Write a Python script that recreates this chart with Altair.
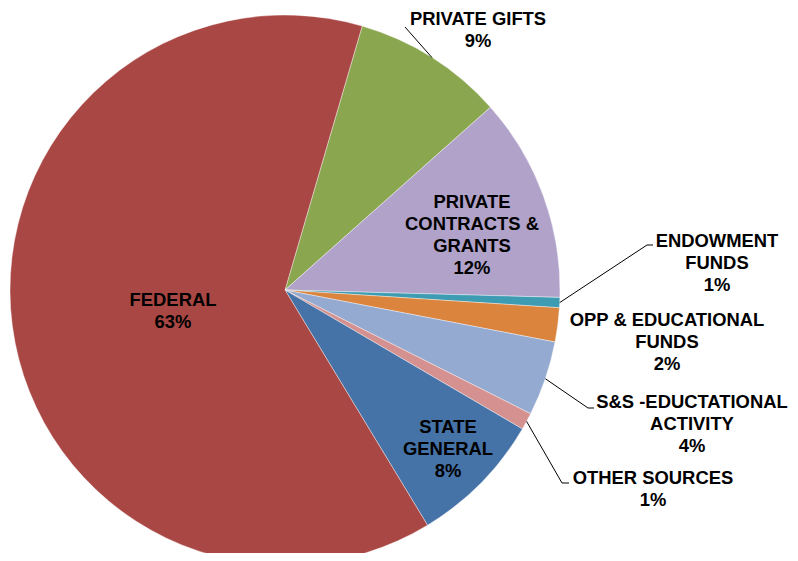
import math
import altair as alt
import pandas as pd

# ---- data ----
categories = ["PRIVATE GIFTS", "PRIVATE CONTRACTS & GRANTS", "ENDOWMENT FUNDS",
              "OPP & EDUCATIONAL FUNDS", "S&S -EDUCTATIONAL ACTIVITY", "OTHER SOURCES",
              "STATE GENERAL", "FEDERAL"]
shares = [8.9, 12.0, 0.6, 2.0, 4.4, 1.0, 7.9, 63.2]
label_text = ["PRIVATE GIFTS\n9%", "PRIVATE\nCONTRACTS &\nGRANTS\n12%", "ENDOWMENT\nFUNDS\n1%",
              "OPP & EDUCATIONAL\nFUNDS\n2%", "S&S -EDUCTATIONAL\nACTIVITY\n4%",
              "OTHER SOURCES\n1%", "STATE\nGENERAL\n8%", "FEDERAL\n63%"]

# ---- style / layout (page pixels of the reference) ----
colors = ["#8AA64F", "#B1A2C9", "#3D9BB2", "#DB843D", "#94AAD1", "#D49190", "#4572A7", "#A94744"]
ORIGIN = 8
CX, CY, R = 285, 290, 275
START_DEG = 16.3
label_x = [478, 472, 717, 667, 692, 653, 448, 173]
label_y = [19, 202, 241, 320, 402, 478, 427, 300]   # first text line
# leader lines: index of slice -> list of (x, y) after the rim point
leaders = {0: [(405, 27)],
           2: [(647, 245), (653, 245)],
           4: [(588, 408), (594, 408)],
           5: [(562, 483), (569, 483)]}

start = math.radians(START_DEG)
pie_df = pd.DataFrame({"category": categories, "share": shares, "idx": range(len(categories))})

pie = alt.Chart(pie_df).mark_arc(outerRadius=R, stroke="white", strokeWidth=0.4).encode(
    theta=alt.Theta("share:Q", stack=True, scale=alt.Scale(range=[start, start + 2 * math.pi])),
    color=alt.Color("category:N", scale=alt.Scale(domain=categories, range=colors), legend=None),
    order=alt.Order("idx:Q"),
    x=alt.value(CX - ORIGIN),
    y=alt.value(CY - ORIGIN),
)

lab_df = pd.DataFrame({"label": label_text,
                       "lx": [v - ORIGIN for v in label_x],
                       "ly": [v - ORIGIN for v in label_y]})
labels = alt.Chart(lab_df).mark_text(
    lineBreak="\n", font="Liberation Sans", fontWeight="bold", fontSize=18.4,
    lineHeight=22, align="center", baseline="middle", color="#000000"
).encode(
    x=alt.X("lx:Q", scale=None, axis=None),
    y=alt.Y("ly:Q", scale=None, axis=None),
    text="label:N",
)

# leader line points: start on the rim at each slice's mid angle
total = sum(shares)
rows = []
cum = 0.0
for i, s in enumerate(shares):
    mid = start + 2 * math.pi * (cum + s / 2) / total
    cum += s
    if i in leaders:
        pts = [(CX + R * math.sin(mid), CY - R * math.cos(mid))] + leaders[i]
        for k, (px, py) in enumerate(pts):
            rows.append({"g": i, "k": k, "px": px - ORIGIN, "py": py - ORIGIN})
lead_df = pd.DataFrame(rows)
lead = alt.Chart(lead_df).mark_line(color="#000000", strokeWidth=1).encode(
    x=alt.X("px:Q", scale=None, axis=None),
    y=alt.Y("py:Q", scale=None, axis=None),
    detail="g:N",
    order="k:Q",
)

chart = alt.layer(pie, lead, labels).properties(
    width=782, height=545, autosize="none", padding=0
).configure_view(stroke=None)

chart.save("out.html", embed_options={"renderer": "svg", "actions": False})
